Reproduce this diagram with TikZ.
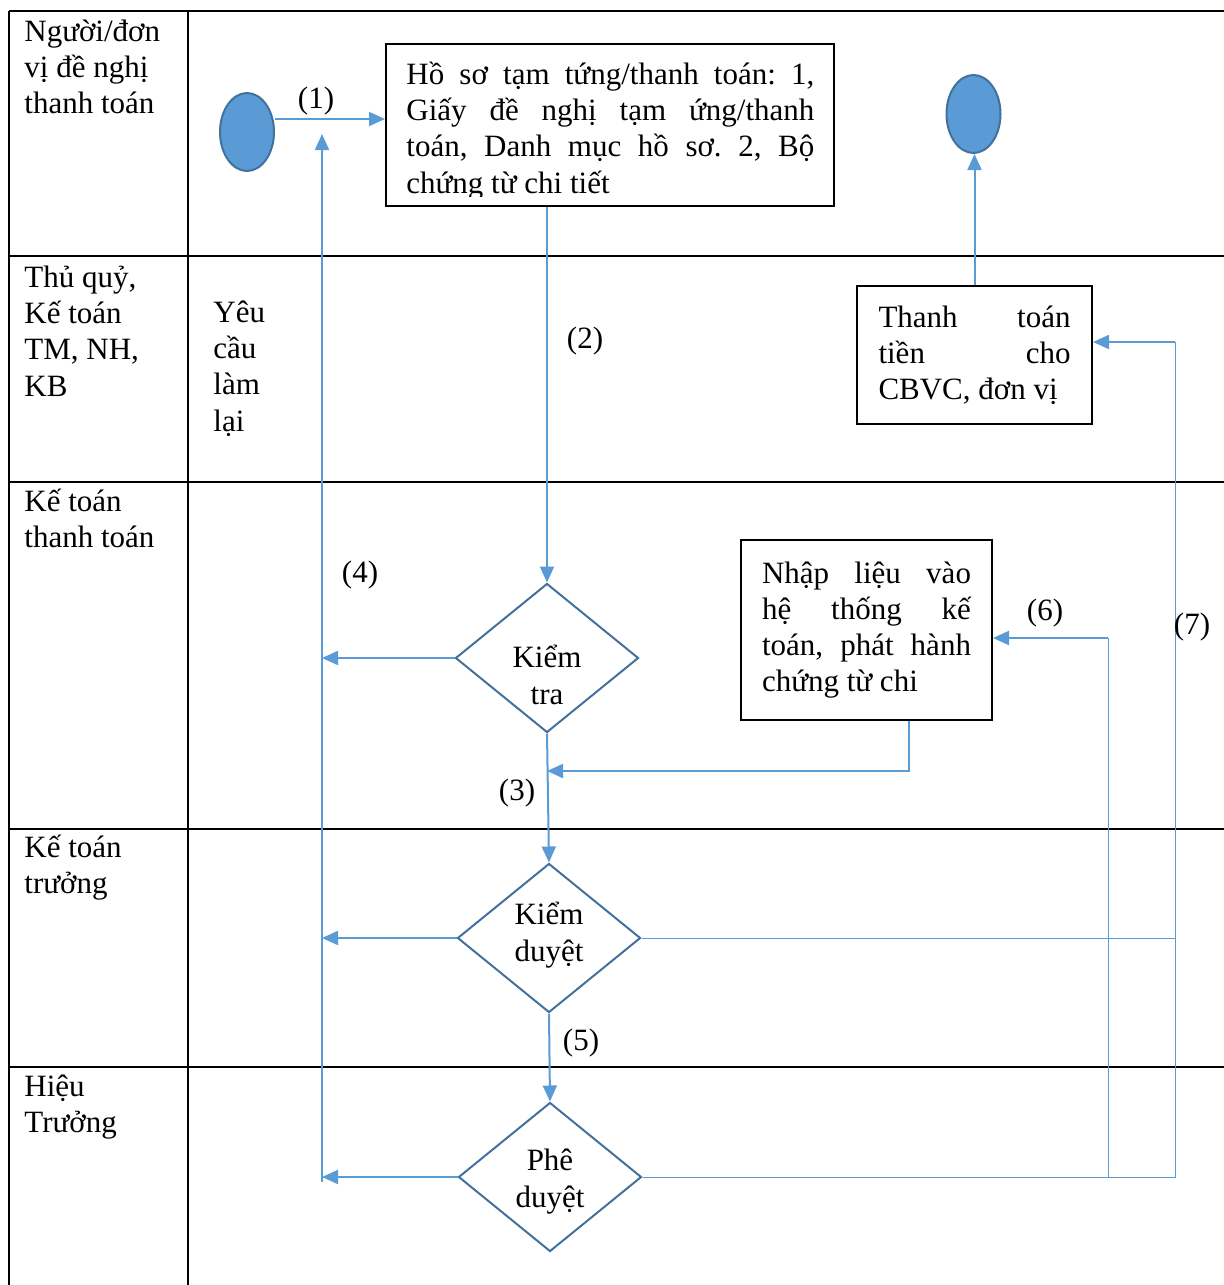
\documentclass[tikz,border=0pt]{standalone}
\usepackage{fontspec}
\setmainfont{Liberation Serif}
\usepackage{tikz}
\usetikzlibrary{shapes.geometric, arrows.meta}
\definecolor{flow}{HTML}{5B9BD5}
\definecolor{flowEdge}{HTML}{41719C}
\newcommand{\lanetop}{\rule{0pt}{16pt}}
\newcommand{\sink}[2]{\raisebox{-#1}[0pt][0pt]{#2}}
\frenchspacing
\tolerance=10000

\begin{document}
\begin{tikzpicture}[
  x=0.5pt, y=-0.5pt,
  font=\fontsize{15.5}{18.1}\selectfont,
  every node/.style={align=center},
  grid/.style={line width=1pt, black},
  lane/.style={anchor=north west, inner sep=0pt, align=left},
  card/.style={rectangle, draw=black, line width=1pt, align=justify},
  decision/.style={diamond, draw=flowEdge, line width=1pt, aspect=1.25,
    inner sep=0pt, minimum width=91.5pt, minimum height=74.5pt},
  terminal/.style={ellipse, draw=flowEdge, fill=flow, line width=1pt,
    inner sep=0pt, minimum width=27pt, minimum height=39pt},
  tag/.style={inner sep=0pt},
  arrow/.style={-{Triangle[length=8pt, width=7pt]}, line width=1pt, color=flow},
  link/.style={line width=0.5pt, color=flow},
]
  \useasboundingbox (0,0) rectangle (1224,1285);

  % swimlane table
  \draw[grid] (9,11) -- (1224,11);
  \draw[grid] (9,256) -- (1224,256);
  \draw[grid] (9,482) -- (1224,482);
  \draw[grid] (9,829) -- (1224,829);
  \draw[grid] (9,1067) -- (1224,1067);
  \draw[grid] (9,11) -- (9,1285);
  \draw[grid] (188,11) -- (188,1285);

  \node[lane] (who) at (24,9) {\lanetop Người/đơn\\ vị đề nghị\\ thanh toán};
  \node[lane] (cash) at (24,255) {\lanetop Thủ quỷ,\\ Kế toán\\ TM, NH,\\ KB};
  \node[lane] (acct) at (24,479) {\lanetop Kế toán\\ thanh toán};
  \node[lane] (chief) at (24,825) {\lanetop Kế toán\\ trưởng};
  \node[lane] (head) at (24,1064) {\lanetop Hiệu\\ Trưởng};
  \node[lane] (redo) at (213,290) {\lanetop Yêu\\ cầu\\ làm\\ lại};

  % flow
  \node[terminal] (start) at (247,132) {};
  \node[terminal] (stop) at (973.5,114) {};

  \node[card, minimum width=224pt, minimum height=81pt] (doc) at (610,125) {};
  \begin{scope}
    \clip (doc.north west) rectangle ([yshift=5.5pt]doc.south east);
    \node[lane, text width=204pt, align=justify] (doctext) at (406,52)
      {\lanetop Hồ sơ tạm tứng/thanh toán: 1,\linebreak Giấy đề nghị tạm ứng/thanh\linebreak toán, Danh mục hồ sơ. 2, Bộ\linebreak chứng từ chi tiết};
  \end{scope}

  \node[card, minimum width=117.5pt, minimum height=69pt, text width=96pt] (pay) at (974.5,355)
    {Thanh toán\linebreak tiền cho\linebreak \mbox{CBVC, đơn vị}};
  \node[card, minimum width=125.5pt, minimum height=90pt, text width=104.5pt] (entry) at (866.5,630)
    {Nhập liệu vào\linebreak hệ thống kế\linebreak toán, phát hành\linebreak chứng từ chi};

  \node[decision] (chk) at (547,658) {\sink{14pt}{Kiểm}\\ \sink{14pt}{tra}};
  \node[decision] (kd) at (549,938) {\sink{2.5pt}{Kiểm}\\ \sink{2.5pt}{duyệt}};
  \node[decision] (pd) at (550,1177) {\sink{6pt}{Phê}\\ \sink{6pt}{duyệt}};

  \coordinate (backtop) at (322,134);
  \coordinate (backbot) at (322,1182);
  \coordinate (merge) at (547,771);
  \coordinate (r6) at (1108,638);
  \coordinate (r7) at (1175,342);

  \draw[arrow] ([yshift=6.5pt]start.east) -- ([yshift=6.5pt]start.east -| doc.west);
  \draw[arrow] (doc.south -| chk.north) -- (chk.north);
  \draw[arrow] (chk.south) -- (kd.north);
  \draw[arrow] (kd.south) -- (pd.north);
  \draw[arrow] ([xshift=21.25pt]entry.south) |- (merge);
  \draw[arrow] (backbot) -- (backtop);
  \draw[arrow] (chk.west) -- (chk.west -| backbot);
  \draw[arrow] (kd.west) -- (kd.west -| backbot);
  \draw[arrow] (pd.west) -- (pd.west -| backbot);
  \draw[link] (kd.east) -- (kd.east -| r7);
  \draw[link] (pd.east) -- (pd.east -| r7) -- (r7);
  \draw[link] (pd.east -| r6) -- (r6);
  \draw[arrow] (r6) -- (r6 -| entry.east);
  \draw[arrow] (r7) -- (r7 -| pay.east);
  \draw[arrow] (pay.north) -- (pay.north |- stop.south);

  \node[tag] (n1) at (316,101) {(1)};
  \node[tag] (n2) at (585,341) {(2)};
  \node[tag] (n3) at (517,793) {(3)};
  \node[tag] (n4) at (360,575) {(4)};
  \node[tag] (n5) at (581,1043) {(5)};
  \node[tag] (n6) at (1045,613) {(6)};
  \node[tag] (n7) at (1192,627) {(7)};
\end{tikzpicture}
\end{document}
